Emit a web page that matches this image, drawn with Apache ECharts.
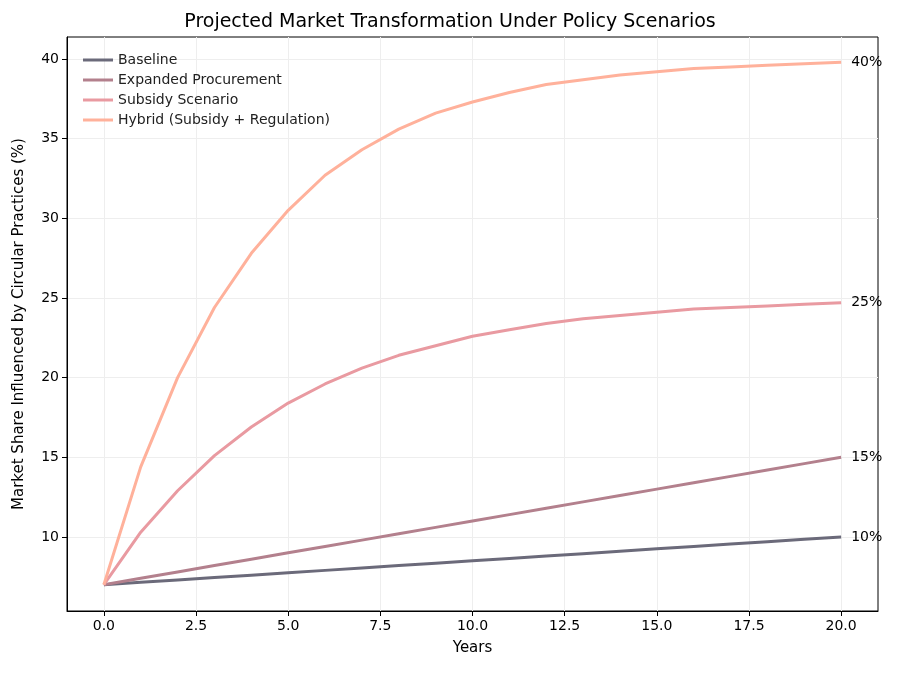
<!DOCTYPE html><html><head><meta charset="utf-8"><script src="https://cdn.jsdelivr.net/npm/echarts@6/dist/echarts.min.js"></script></head><body style="margin:0"><div id="c" style="width:900px;height:674px"></div><script>
const years=[0,1,2,3,4,5,6,7,8,9,10,11,12,13,14,15,16,17,18,19,20];
const baseline=[7,7.15,7.3,7.45,7.6,7.75,7.9,8.05,8.2,8.35,8.5,8.65,8.8,8.95,9.1,9.25,9.4,9.55,9.7,9.85,10];
const expanded=[7,7.4,7.8,8.2,8.6,9,9.4,9.8,10.2,10.6,11,11.4,11.8,12.2,12.6,13,13.4,13.8,14.2,14.6,15];
const subsidy=[7,10.3,12.9,15.1,16.9,18.4,19.6,20.6,21.4,22.0,22.6,23.0,23.4,23.7,23.9,24.1,24.3,24.4,24.5,24.6,24.7];
const hybrid=[7,14.4,20.0,24.4,27.8,30.5,32.7,34.3,35.6,36.6,37.3,37.9,38.4,38.7,39.0,39.2,39.4,39.5,39.6,39.7,39.8];
const names=['Baseline','Expanded Procurement','Subsidy Scenario','Hybrid (Subsidy + Regulation)'];
const ends=['10%','15%','25%','40%'];
const colors=['#6b6a7a','#b3808d','#e99aa1','#ffb19b'];
const xt=[0,2.5,5,7.5,10,12.5,15,17.5,20], yt=[10,15,20,25,30,35,40];
const f='DejaVu Sans';
const ch=echarts.init(document.getElementById('c'));
ch.setOption({animation:false,textStyle:{fontFamily:f},
title:{text:'Projected Market Transformation Under Policy Scenarios',left:'center',top:8,textStyle:{fontFamily:f,fontWeight:'normal',fontSize:19,color:'#000'}},
legend:{orient:'vertical',left:78,top:48,itemGap:6,itemWidth:30,itemHeight:3,icon:'rect',textStyle:{fontFamily:f,fontSize:14,color:'#222'},data:names},
grid:{left:67,right:22,top:37,bottom:63,show:true,borderColor:'#000',borderWidth:1},
xAxis:{type:'value',min:-1,max:21,name:'Years',nameLocation:'middle',nameGap:30,nameTextStyle:{fontSize:15,color:'#000'},
axisLine:{onZero:false,lineStyle:{color:'#000'}},axisTick:{customValues:xt,length:5,lineStyle:{color:'#000'}},
axisLabel:{customValues:xt,fontSize:14,color:'#000',formatter:v=>v.toFixed(1)},splitLine:{show:true,lineStyle:{color:'#eee'}}},
yAxis:{type:'value',min:5.35,max:41.38,name:'Market Share Influenced by Circular Practices (%)',nameLocation:'middle',nameGap:40,nameTextStyle:{fontSize:15,color:'#000'},
axisLine:{show:true,onZero:false,lineStyle:{color:'#000'}},axisTick:{show:true,length:5,customValues:yt,lineStyle:{color:'#000'}},
axisLabel:{customValues:yt,fontSize:14,color:'#000'},splitLine:{show:true,lineStyle:{color:'#eee'}}},
series:[baseline,expanded,subsidy,hybrid].map((d,i)=>({name:names[i],type:'line',showSymbol:false,symbol:'none',
data:years.map((x,j)=>[x,d[j]]),lineStyle:{width:3,color:colors[i]},itemStyle:{color:colors[i]},
endLabel:{show:true,formatter:ends[i],fontSize:14,color:'#000',distance:10}}))
});
</script></body></html>
